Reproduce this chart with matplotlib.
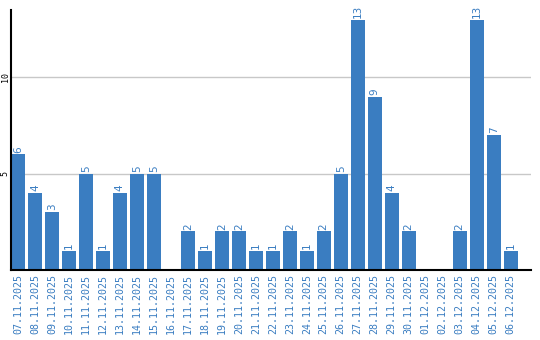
import numpy as np
import matplotlib
matplotlib.use("Agg")
import matplotlib.pyplot as plt

dates = ["07.11.2025", "08.11.2025", "09.11.2025", "10.11.2025", "11.11.2025",
         "12.11.2025", "13.11.2025", "14.11.2025", "15.11.2025", "16.11.2025",
         "17.11.2025", "18.11.2025", "19.11.2025", "20.11.2025", "21.11.2025",
         "22.11.2025", "23.11.2025", "24.11.2025", "25.11.2025", "26.11.2025",
         "27.11.2025", "28.11.2025", "29.11.2025", "30.11.2025", "01.12.2025",
         "02.12.2025", "03.12.2025", "04.12.2025", "05.12.2025", "06.12.2025"]
counts = [6, 4, 3, 1, 5, 1, 4, 5, 5, 0, 2, 1, 2, 2, 1, 1, 2, 1, 2, 5,
          13, 9, 4, 2, 0, 0, 2, 13, 7, 1]
yticks = [5, 10]

blue = "#3a7dc1"

fig = plt.figure(figsize=(5.4, 3.4), dpi=100)
ax = fig.add_axes([11/540, 70/340, 520/540, 260/340])

x = np.arange(len(dates))
ax.bar(x, counts, width=14/17, color=blue, zorder=2)

for xi, v in zip(x, counts):
    if v > 0:
        ax.text(xi, v + 0.1, str(v), rotation=90, ha="center", va="bottom",
                color=blue, fontsize=7.5, family="DejaVu Sans")

ax.set_xlim(-0.41, 30.2)
ax.set_ylim(0, 13.5)
ax.set_yticks(yticks)
ax.set_yticklabels([str(t) for t in yticks], rotation=90, va="center",
                   fontsize=6, family="DejaVu Sans Mono")
ax.yaxis.grid(True, color="#c8c8c8", linewidth=1, zorder=0)
ax.set_axisbelow(True)
ax.tick_params(axis="y", length=0, pad=1)

ax.set_xticks(x)
ax.set_xticklabels(dates, rotation=90, fontsize=7.2, color=blue,
                   family="DejaVu Sans Mono")
ax.tick_params(axis="x", length=0, pad=3)

for s in ["top", "right"]:
    ax.spines[s].set_visible(False)
ax.spines["left"].set_linewidth(1.5)
ax.spines["bottom"].set_linewidth(1.5)

fig.savefig("out.png", dpi=100)
